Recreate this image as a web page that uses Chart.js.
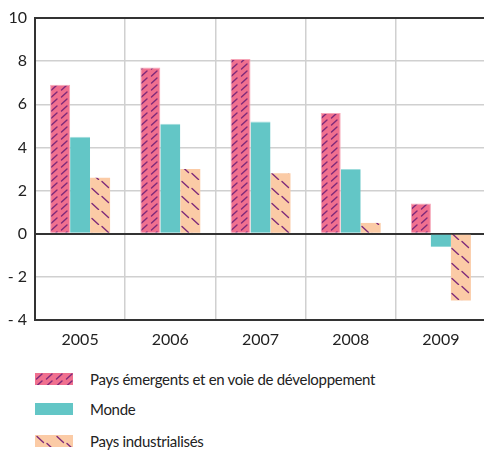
<!DOCTYPE html>
<html lang="fr">
<head>
<meta charset="utf-8">
<script src="https://cdn.jsdelivr.net/npm/chart.js@4/dist/chart.umd.min.js"></script>
<style>
  html, body { margin: 0; padding: 0; background: #fff; overflow: hidden; width: 484px; height: 450px; }
  #wrap { position: absolute; left: 0; top: 0; width: 488px; height: 350px; }
  .legend { position: absolute; left: 0; top: 0; font-family: Lato, "Open Sans", sans-serif; font-size: 15px; letter-spacing: -0.3px; color: #222; }
  .row { position: absolute; left: 35px; white-space: nowrap; display: flex; align-items: center; }
  .row canvas { display: block; }
  .row span { position: absolute; left: 55px; top: 50%; transform: translateY(-52%); }
</style>
</head>
<body>
<div id="wrap"><canvas id="chart" width="488" height="350"></canvas></div>
<div class="legend" id="legend"></div>
<script>
// Croissance du PIB (%), par groupe de pays
const years = ['2005', '2006', '2007', '2008', '2009'];
const emergents = [6.9, 7.7, 8.1, 5.6, 1.4];
const monde = [4.5, 5.1, 5.2, 3.0, -0.6];
const industrialises = [2.6, 3.0, 2.8, 0.5, -3.1];
const seriesNames = ['Pays émergents et en voie de développement', 'Monde', 'Pays industrialisés'];
const yTicks = [-4, -2, 0, 2, 4, 6, 8, 10];

const PINK = '#F0708F';
const TEAL = '#63C6C6';
const PEACH = '#FBCBA6';
const HATCH = '#7E2A7A';

// Hatched fills: short dashes on a coloured ground
function hatch(bg, dir) {
  const c = document.createElement('canvas');
  const ctx = c.getContext('2d');
  if (dir === 'up') {
    c.width = 10; c.height = 7;
    ctx.fillStyle = bg; ctx.fillRect(0, 0, 10, 7);
    ctx.strokeStyle = HATCH; ctx.lineWidth = 1.4; ctx.lineCap = 'round';
    ctx.beginPath(); ctx.moveTo(1.5, 6); ctx.lineTo(7, 1); ctx.stroke();
  } else {
    c.width = 20; c.height = 15;
    ctx.fillStyle = bg; ctx.fillRect(0, 0, 20, 15);
    ctx.strokeStyle = HATCH; ctx.lineWidth = 1.4; ctx.lineCap = 'round';
    ctx.beginPath(); ctx.moveTo(2, 1.5); ctx.lineTo(8.5, 7.5); ctx.stroke();
    ctx.beginPath(); ctx.moveTo(12, 8.5); ctx.lineTo(18.5, 14.5); ctx.stroke();
  }
  return c;
}

const chartCtx = document.getElementById('chart').getContext('2d');
const pinkFill = chartCtx.createPattern(hatch(PINK, 'up'), 'repeat');
const peachFill = chartCtx.createPattern(hatch(PEACH, 'down'), 'repeat');

const fills = [pinkFill, TEAL, peachFill];
const edges = ['#F6A6B8', '#9EDCDC', '#FDDCC4'];

const darkLine = v => (v === 0 || v === -4 || v === 10);

new Chart(chartCtx, {
  type: 'bar',
  data: {
    labels: years,
    datasets: [
      { label: seriesNames[0], data: emergents, backgroundColor: fills[0], borderColor: edges[0], borderWidth: 1 },
      { label: seriesNames[1], data: monde, backgroundColor: fills[1], borderColor: edges[1], borderWidth: { top: 1 } },
      { label: seriesNames[2], data: industrialises, backgroundColor: fills[2], borderColor: edges[2], borderWidth: 0 }
    ]
  },
  options: {
    responsive: false,
    animation: false,
    layout: { padding: { top: 18, right: 2, left: 0, bottom: 0 } },
    datasets: { bar: { categoryPercentage: 0.665, barPercentage: 1 } },
    plugins: { legend: { display: false }, tooltip: { enabled: false } },
    scales: {
      x: {
        grid: { color: '#D0D0D0', lineWidth: 1.5, drawTicks: false, offset: true },
        border: { display: true, color: '#333', width: 2 },
        ticks: { color: '#222', font: { family: 'Lato', size: 16 }, padding: 10 },
        afterFit: s => { s.height = 30; }
      },
      y: {
        min: -4, max: 10,
        afterBuildTicks: s => { s.ticks = yTicks.map(v => ({ value: v })); },
        grid: {
          drawTicks: false,
          color: c => darkLine(c.tick.value) ? '#333' : '#D0D0D0',
          lineWidth: c => darkLine(c.tick.value) ? 2 : 1.5
        },
        border: { display: true, color: '#333', width: 2 },
        ticks: {
          color: '#222', font: { family: 'Lato', size: 16 }, padding: 8,
          callback: v => v < 0 ? '- ' + Math.abs(v) : String(v)
        },
        afterFit: s => { s.width = 35; }
      }
    }
  }
});

// Legend: one entry per line, swatch + label
const legend = document.getElementById('legend');
const rowTops = [373, 403, 435];
seriesNames.forEach((name, i) => {
  const row = document.createElement('div');
  row.className = 'row';
  row.style.top = rowTops[i] + 'px';
  const sw = document.createElement('canvas');
  sw.width = 38; sw.height = 12;
  const sctx = sw.getContext('2d');
  if (i === 1) { sctx.fillStyle = TEAL; }
  else { sctx.fillStyle = sctx.createPattern(hatch(i === 0 ? PINK : PEACH, i === 0 ? 'up' : 'down'), 'repeat'); }
  sctx.fillRect(0, 0, 38, 12);
  const label = document.createElement('span');
  label.textContent = name;
  row.appendChild(sw);
  row.appendChild(label);
  legend.appendChild(row);
});
</script>
</body>
</html>
